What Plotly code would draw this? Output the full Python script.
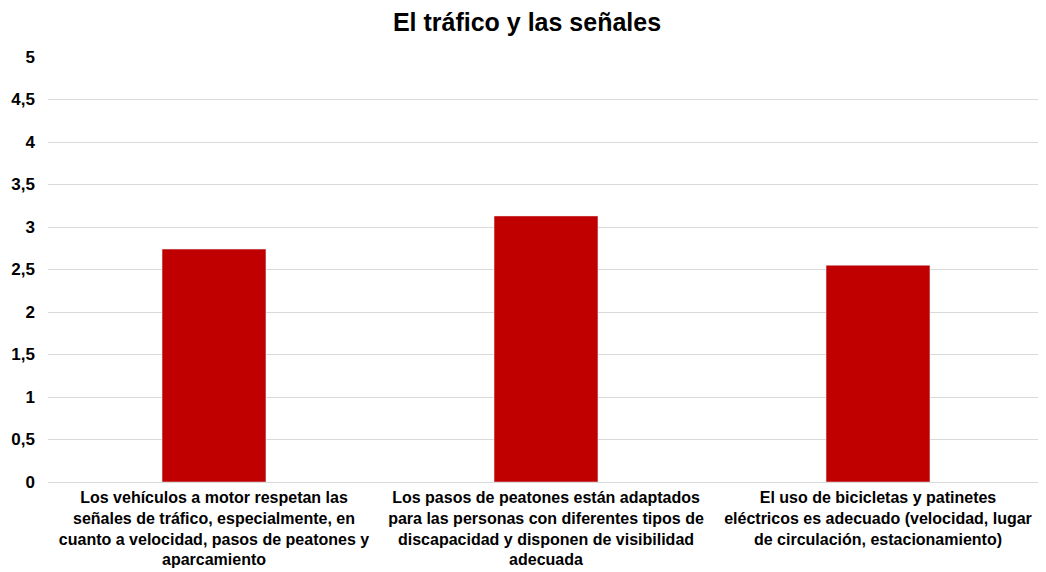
import plotly.graph_objects as go

categories = [
    "Los vehículos a motor respetan las<br>señales de tráfico, especialmente, en<br>cuanto a velocidad, pasos de peatones y<br>aparcamiento",
    "Los pasos de peatones están adaptados<br>para las personas con diferentes tipos de<br>discapacidad y disponen de visibilidad<br>adecuada",
    "El uso de bicicletas y patinetes<br>eléctricos es adecuado (velocidad, lugar<br>de circulación, estacionamiento)",
]
values = [2.74, 3.13, 2.55]
title = "El tráfico y las señales"

# page body has an 8px margin; compensate so the plot lands where the reference has it
fig = go.Figure(go.Bar(x=categories, y=values, marker_color="#C00000", width=0.313))

fig.update_layout(
    title=dict(text=f"<b>{title}</b>", x=0.5, xanchor="center", y=1 - 14 / 564, yanchor="middle",
               font=dict(family="Liberation Sans, Arial", size=25, color="#000")),
    width=1038, height=564,
    margin=dict(l=40, r=2, t=49, b=90, autoexpand=False),
    paper_bgcolor="white", plot_bgcolor="white",
    separators=",.",
    showlegend=False,
    font=dict(family="Liberation Sans, Arial", color="#000"),
)
fig.update_yaxes(range=[0, 5], dtick=0.5, showgrid=True, gridcolor="#d9d9d9", gridwidth=1,
                 zeroline=True, zerolinecolor="#d9d9d9", zerolinewidth=1,
                 tickfont=dict(family="Liberation Sans, Arial", size=17, color="#000"),
                 ticklabelstandoff=12, tickprefix="<b>", ticksuffix="</b>")
fig.update_xaxes(tickfont=dict(family="Liberation Sans, Arial", size=16, color="#000"),
                 tickangle=0, showline=False, ticks="", automargin=False, ticklabelstandoff=4,
                 ticktext=[f"<b>{c}</b>" for c in categories], tickvals=categories)

fig.write_html("out.html")
